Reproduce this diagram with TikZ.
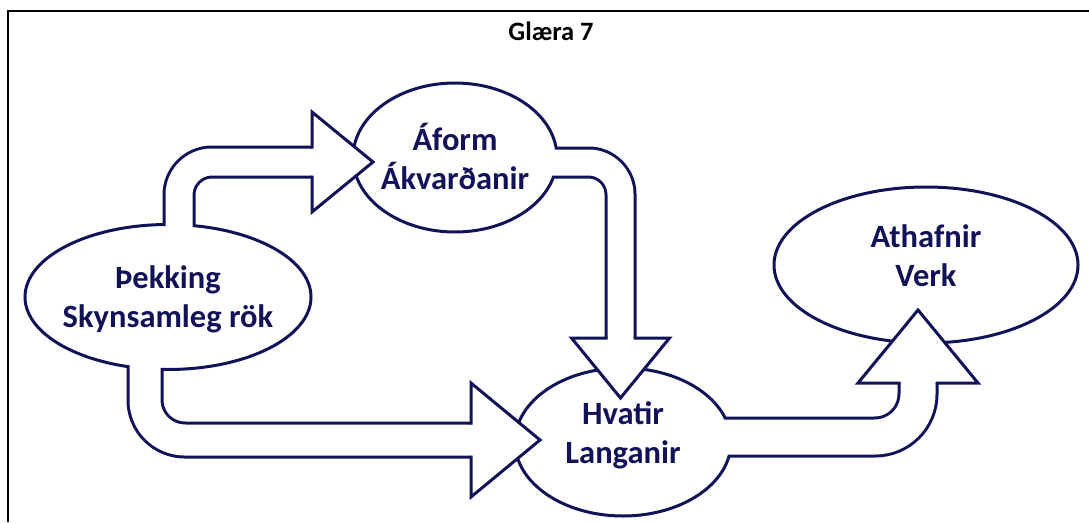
\documentclass[tikz,border=0pt]{standalone}
\usepackage{fontspec}
\setmainfont{Carlito}
\usetikzlibrary{shapes.geometric}
\usetikzlibrary{backgrounds}
\definecolor{navy}{RGB}{18,18,88}
\tikzset{
  bubble/.style={ellipse,draw=navy,line width=3pt,fill=white,inner sep=0pt,outer sep=0pt},
  bubbletext/.style={align=center,text=navy,font=\bfseries\fontsize{32.5}{39}\selectfont},
  arrowhead/.style={draw=navy,line width=3pt,fill=white,line cap=rect},
}

% hollow shaft: #1 inner width, #2 outer width, #3 corner radius, #4 path
\newcommand{\shaft}[4]{%
  \begin{pgfonlayer}{background}
    \draw[navy,line width=#2,rounded corners=#3] #4;
  \end{pgfonlayer}
  \draw[white,line width=#1,rounded corners=#3] #4;
}
% open arrow head: #1 tip, #2 angle, #3 shaft half width, #4 head half width, #5 head length
\newcommand{\headat}[5]{%
  \filldraw[arrowhead,shift={#1},rotate=#2] (-#5,#3) -- (-#5,#4) -- (0,0) -- (-#5,-#4) -- (-#5,-#3);
}

\begin{document}
\begin{tikzpicture}[x=1pt,y=-1pt,line width=3pt]
  \useasboundingbox (0,0) rectangle (1089,522);

  % frame and title
  \draw[black,line width=2.5pt] (8,522) -- (8,11) -- (1090,11);
  \node[font=\bfseries\fontsize{26.5}{30}\selectfont,anchor=base] (title) at (551,40) {Glæra 7};

  % Þekking
  \node[bubble,minimum width=286pt,minimum height=145pt] (know) at (168,297) {};
  \node[bubbletext] (knowtxt) at (168,299) {Þekking\\Skynsamleg rök};

  % Áform
  \node[bubble,minimum width=204pt,minimum height=149pt] (intent) at (455,157.5) {};
  \node[bubbletext] (intenttxt) at (455,156) {Áform\\Ákvarðanir};

  % Hvatir
  \node[bubble,minimum width=216pt,minimum height=148pt] (drive) at (623,442) {};
  \node[bubbletext] (drivetxt) at (623,435) {Hvatir\\Langanir};

  % Athafnir
  \node[bubble,minimum width=304pt,minimum height=156pt] (deed) at (926,265) {};
  \node[bubbletext] (deedtxt) at (926,256) {Athafnir\\Verk};

  % arrow tips
  \coordinate (tip1) at (373,162);
  \coordinate (tip2) at (620.5,398);
  \coordinate (tip3) at (540,440);
  \coordinate (tip4) at (918,310);

  % Þekking -> Áform
  \shaft{27pt}{33pt}{33pt}{([xshift=11pt,yshift=-7pt]know.north) |- ([xshift=-61pt]tip1)}
  \headat{(tip1)}{0}{15}{50}{61}

  % Áform -> Hvatir
  \shaft{26pt}{32pt}{32pt}{([xshift=-7pt,yshift=-5pt]intent.east) -| ([yshift=60pt]tip2)}
  \headat{(tip2)}{-90}{14.5}{49}{60}

  % Þekking -> Hvatir
  \shaft{31pt}{37pt}{40pt}{([xshift=-23pt,yshift=9pt]know.south) |- ([xshift=-69pt]tip3)}
  \headat{(tip3)}{0}{17}{57}{69}

  % Hvatir -> Athafnir
  \shaft{35pt}{41pt}{43pt}{([xshift=-15pt,yshift=5pt]drive.east) -| ([yshift=-73pt]tip4)}
  \headat{(tip4)}{90}{19}{60}{73}
\end{tikzpicture}
\end{document}
